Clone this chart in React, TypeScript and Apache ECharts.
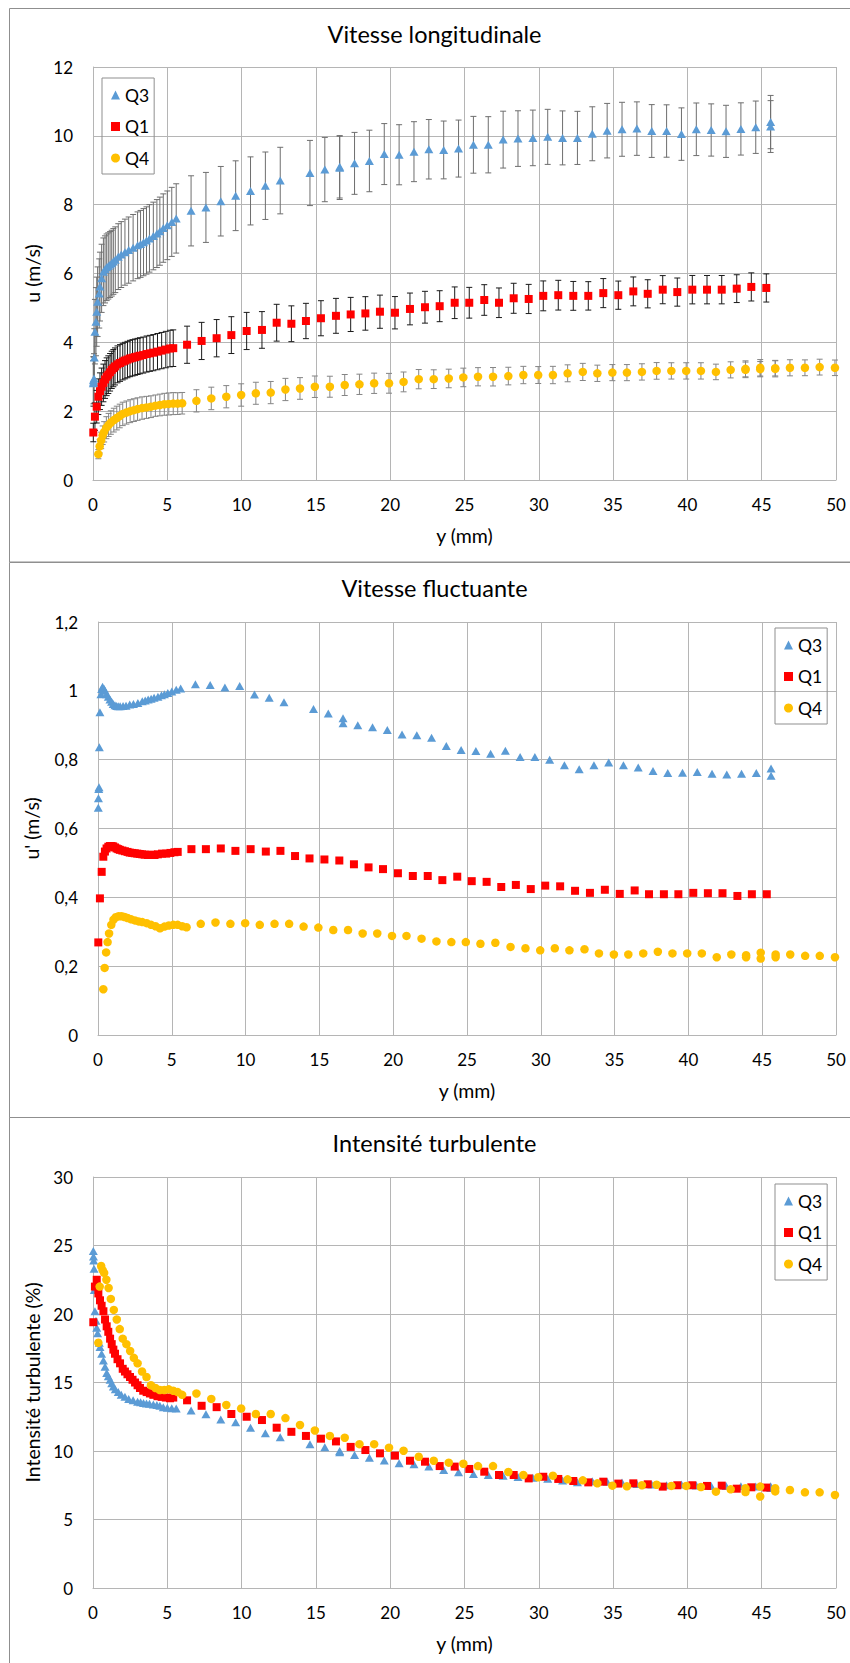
import React, { useEffect, useRef } from "react";
import * as echarts from "echarts";

const FONT = "Lato, 'Open Sans', sans-serif";

// ---------- Data ----------
const seriesNames = ["Q3", "Q1", "Q4"];
const xTicks = { min: 0, max: 50, step: 5 };

// Q3 positions (mm)
const q3Y = [
  0.02, 0.03, 0.05, 0.07, 0.09, 0.13, 0.2, 0.25, 0.31, 0.42, 0.47, 0.58, 0.7, 0.81, 0.92, 1.03, 1.15, 1.26, 1.37, 1.5,
  1.7, 1.9, 2.15, 2.4, 2.7, 3.0, 3.2, 3.4, 3.6, 3.8, 4.06, 4.3, 4.5, 4.73, 5.0, 5.3, 5.6,
  6.6, 7.6, 8.6, 9.6, 10.6, 11.6, 12.6, 14.6, 15.6, 16.6, 16.6, 17.6, 18.6, 19.6, 20.6, 21.6, 22.6, 23.6, 24.6, 25.6,
  26.6, 27.6, 28.6, 29.6, 30.6, 31.6, 32.6, 33.6, 34.6, 35.6, 36.6, 37.6, 38.6, 39.6, 40.6, 41.6, 42.6, 43.6, 44.6, 45.6, 45.6,
];
const q3U = [
  2.81, 2.9, 2.85, 2.95, 3.56, 4.31, 4.6, 4.89, 5.18, 5.42, 5.62, 5.86, 6.05, 6.12, 6.18, 6.22, 6.26, 6.3, 6.35, 6.4,
  6.49, 6.55, 6.62, 6.68, 6.75, 6.82, 6.86, 6.91, 6.96, 7.02, 7.09, 7.16, 7.23, 7.32, 7.4, 7.5, 7.6,
  7.82, 7.92, 8.1, 8.26, 8.4, 8.55, 8.7, 8.92, 9.02, 9.07, 9.1, 9.2, 9.27, 9.47, 9.45, 9.54, 9.61, 9.59, 9.63, 9.74,
  9.74, 9.89, 9.92, 9.94, 9.97, 9.94, 9.94, 10.06, 10.15, 10.19, 10.21, 10.14, 10.14, 10.05, 10.19, 10.17, 10.13, 10.2, 10.25, 10.4, 10.27,
];
const q3Urms = [
  0.66, 0.688, 0.715, 0.72, 0.836, 0.938, 0.99, 1.005, 1.012, 1.005, 1.0, 0.99, 0.983, 0.975, 0.968, 0.962, 0.958, 0.956, 0.955, 0.955,
  0.956, 0.957, 0.96, 0.962, 0.965, 0.97, 0.972, 0.975, 0.977, 0.98, 0.983, 0.987, 0.99, 0.994, 0.998, 1.003, 1.007,
  1.019, 1.017, 1.01, 1.014, 0.989, 0.98, 0.967, 0.947, 0.934, 0.92, 0.906, 0.9, 0.894, 0.886, 0.873, 0.871, 0.864, 0.84, 0.828, 0.825,
  0.817, 0.826, 0.808, 0.808, 0.8, 0.784, 0.772, 0.784, 0.792, 0.784, 0.777, 0.767, 0.761, 0.762, 0.764, 0.759, 0.757, 0.759, 0.761, 0.774, 0.753,
];
const q3TI = [
  24.6, 24.2, 23.9, 23.3, 21.75, 20.2, 19.5, 19.0, 18.6, 17.9, 17.6, 17.1, 16.6, 16.15, 15.7, 15.45, 15.2, 14.95, 14.7, 14.5,
  14.3, 14.1, 13.96, 13.8, 13.7, 13.6, 13.55, 13.5, 13.47, 13.45, 13.4, 13.35, 13.3, 13.2, 13.15, 13.12, 13.1,
  12.95, 12.68, 12.3, 12.1, 11.7, 11.3, 11.0, 10.5, 10.27, 10.0, 9.9, 9.7, 9.5, 9.3, 9.1, 9.03, 8.86, 8.61, 8.44, 8.32,
  8.25, 8.2, 8.1, 8.05, 7.98, 7.85, 7.72, 7.8, 7.75, 7.7, 7.6, 7.55, 7.5, 7.55, 7.48, 7.45, 7.45, 7.42, 7.4, 7.42, 7.3,
];

// Q1 positions (mm)
const q1Y = [
  0.02, 0.13, 0.25, 0.36, 0.47, 0.58, 0.7, 0.81, 0.92, 1.03, 1.15, 1.26, 1.37, 1.48, 1.65, 1.82, 2.0, 2.15, 2.32, 2.49,
  2.66, 2.83, 3.0, 3.16, 3.38, 3.61, 3.83, 4.06, 4.34, 4.62, 4.9, 5.18, 5.4,
  6.33, 7.31, 8.32, 9.31, 10.34, 11.37, 12.36, 13.35, 14.33, 15.34, 16.35, 17.34, 18.33, 19.31, 20.32, 21.33, 22.34, 23.33, 24.34, 25.32,
  26.33, 27.32, 28.31, 29.32, 30.3, 31.31, 32.32, 33.33, 34.34, 35.35, 36.36, 37.33, 38.34, 39.32, 40.33, 41.32, 42.31, 43.32, 44.3, 45.31,
];
const q1U = [
  1.38, 1.84, 2.13, 2.42, 2.58, 2.71, 2.82, 2.92, 3.0, 3.06, 3.13, 3.2, 3.25, 3.3, 3.36, 3.4, 3.44, 3.47, 3.5, 3.53,
  3.55, 3.57, 3.59, 3.61, 3.63, 3.66, 3.68, 3.7, 3.73, 3.76, 3.79, 3.82, 3.83,
  3.93, 4.04, 4.12, 4.21, 4.33, 4.36, 4.57, 4.54, 4.62, 4.7, 4.77, 4.81, 4.84, 4.89, 4.86, 4.97, 5.02, 5.05, 5.15, 5.15,
  5.23, 5.15, 5.28, 5.26, 5.35, 5.37, 5.35, 5.35, 5.43, 5.37, 5.48, 5.41, 5.53, 5.46, 5.53, 5.53, 5.53, 5.56, 5.61, 5.58,
];
const q1Urms = [
  0.269, 0.397, 0.474, 0.518, 0.533, 0.542, 0.547, 0.549, 0.549, 0.548, 0.545, 0.542, 0.54, 0.538, 0.536, 0.534, 0.532, 0.53, 0.529, 0.528,
  0.527, 0.526, 0.525, 0.524, 0.523, 0.524, 0.523, 0.525, 0.527, 0.527, 0.529, 0.531, 0.532,
  0.54, 0.54, 0.542, 0.535, 0.54, 0.533, 0.535, 0.52, 0.513, 0.51, 0.507, 0.496, 0.487, 0.482, 0.47, 0.462, 0.462, 0.45, 0.46, 0.447,
  0.445, 0.43, 0.436, 0.424, 0.434, 0.432, 0.419, 0.413, 0.422, 0.41, 0.42, 0.409, 0.409, 0.409, 0.413, 0.412, 0.412, 0.404, 0.409, 0.409,
];
const q1TI = [
  19.4, 22.0, 22.5, 21.5, 21.0, 20.6, 20.2, 19.6, 19.1, 18.7, 18.2, 17.8, 17.4, 17.1, 16.7, 16.4, 16.0, 15.8, 15.6, 15.4,
  15.2, 15.0, 14.8, 14.6, 14.4, 14.3, 14.2, 14.1, 14.0, 13.95, 13.9, 13.85, 13.9,
  13.7, 13.3, 13.2, 12.7, 12.5, 12.26, 11.7, 11.4, 11.1, 10.9, 10.7, 10.3, 10.07, 9.83, 9.66, 9.29, 9.22, 8.9, 8.86, 8.69,
  8.49, 8.25, 8.25, 8.0, 8.12, 7.96, 7.81, 7.71, 7.76, 7.62, 7.64, 7.57, 7.4, 7.5, 7.5, 7.45, 7.47, 7.25, 7.35, 7.33,
];

// Q4 positions (mm)
const q4Y = [
  0.36, 0.45, 0.55, 0.65, 0.75, 0.9, 1.05, 1.2, 1.4, 1.6, 1.8, 2.0, 2.25, 2.5, 2.75, 3.0, 3.3, 3.6, 3.9, 4.2,
  4.5, 4.8, 5.1, 5.4, 5.7, 6.0,
  6.96, 7.96, 8.97, 9.97, 10.96, 11.96, 12.95, 13.93, 14.93, 15.94, 16.94, 17.93, 18.92, 19.92, 20.9, 21.92, 22.93, 23.94, 24.92, 25.91,
  26.92, 27.95, 28.96, 29.96, 30.95, 31.94, 32.96, 33.94, 34.95, 35.93, 36.94, 37.93, 38.92, 39.92, 40.91, 41.92, 42.91,
  43.91, 43.91, 44.9, 44.9, 45.91, 45.91, 46.9, 47.91, 48.9, 49.93,
];
const q4U = [
  0.75, 0.98, 1.15, 1.3, 1.4, 1.52, 1.6, 1.67, 1.74, 1.8, 1.86, 1.92, 1.96, 2.0, 2.03, 2.06, 2.09, 2.11, 2.13, 2.16,
  2.18, 2.2, 2.21, 2.22, 2.22, 2.23,
  2.3, 2.37, 2.42, 2.47, 2.52, 2.54, 2.63, 2.66, 2.71, 2.71, 2.76, 2.78, 2.81, 2.81, 2.85, 2.93, 2.93, 2.95, 2.98, 3.0,
  3.0, 3.02, 3.05, 3.05, 3.05, 3.1, 3.14, 3.1, 3.12, 3.12, 3.14, 3.17, 3.17, 3.17, 3.17, 3.14, 3.2,
  3.23, 3.2, 3.26, 3.22, 3.23, 3.25, 3.26, 3.26, 3.28, 3.26,
];
const q4Urms = [
  0.133, 0.195, 0.24, 0.27, 0.295, 0.32, 0.335, 0.342, 0.345, 0.345, 0.343, 0.34, 0.336, 0.333, 0.33, 0.328, 0.325, 0.32, 0.316, 0.31,
  0.315, 0.318, 0.32, 0.32, 0.316, 0.313,
  0.323, 0.327, 0.323, 0.325, 0.32, 0.323, 0.323, 0.315, 0.312, 0.305, 0.305, 0.295, 0.295, 0.288, 0.288, 0.28, 0.272, 0.27, 0.27, 0.265,
  0.268, 0.256, 0.252, 0.246, 0.252, 0.246, 0.249, 0.237, 0.234, 0.234, 0.237, 0.242, 0.237, 0.237, 0.237, 0.226, 0.234,
  0.232, 0.226, 0.239, 0.222, 0.234, 0.226, 0.234, 0.23, 0.23, 0.226,
];
const q4TI = [
  17.9, 22.0, 23.5, 23.2, 23.0, 22.5, 21.9, 21.1, 20.3, 19.6, 18.9, 18.2, 17.8, 17.3, 16.8, 16.4, 15.8, 15.4, 14.8, 14.6,
  14.45, 14.45, 14.5, 14.4, 14.3, 14.1,
  14.2, 13.8, 13.36, 13.1, 12.7, 12.7, 12.4, 11.9, 11.5, 11.1, 10.97, 10.5, 10.5, 10.24, 10.02, 9.58, 9.29, 9.15, 9.07, 8.9,
  8.9, 8.47, 8.25, 8.08, 8.2, 7.93, 7.86, 7.64, 7.47, 7.42, 7.5, 7.54, 7.45, 7.45, 7.37, 7.03, 7.2,
  7.28, 7.0, 7.4, 6.68, 7.28, 7.05, 7.15, 6.98, 6.98, 6.79,
];

const titles = ["Vitesse longitudinale", "Vitesse fluctuante", "Intensité turbulente"];
const yNames = ["u (m/s)", "u' (m/s)", "Intensité turbulente (%)"];
const yRanges = [
  { min: 0, max: 12, step: 2 },
  { min: 0, max: 1.2, step: 0.2 },
  { min: 0, max: 30, step: 5 },
];

// ---------- Styles ----------
const COLORS = ["#5B9BD5", "#FF0000", "#FFC000"];
const ERR_COLORS = ["#6e6e6e", "#1a1a1a", "#858585"];
const SYMBOLS = ["triangle", "rect", "circle"];
const SYMBOL_SIZES: any[] = [[9, 8], 8, 8.5];
const GRID_COLOR = "#b5b5b5";
const BORDER_COLOR = "#8f8f8f";

const grids = [
  { left: 93, top: 67, width: 743, height: 413 },
  { left: 98, top: 622, width: 738, height: 413 },
  { left: 93, top: 1177, width: 743, height: 411 },
];
const titleY = [34, 588, 1143];
const nameGaps = [43, 57, 43];
const legendPos = [
  { left: 102, top: 78 },
  { left: 775, top: 628 },
  { left: 775, top: 1184 },
];
const panelBoxes = [
  [8.5, 553.5],
  [562.5, 555],
  [1117.5, 600],
];

function pairs(xs: number[], ys: number[]) {
  const n = Math.min(xs.length, ys.length);
  const out: number[][] = [];
  for (let i = 0; i < n; i++) out.push([xs[i], ys[i]]);
  return out;
}
function errData(xs: number[], ys: number[], es: number[]) {
  const n = Math.min(xs.length, ys.length, es.length);
  const out: number[][] = [];
  for (let i = 0; i < n; i++) out.push([xs[i], ys[i] - es[i], ys[i] + es[i]]);
  return out;
}

const errRender = (color: string) => (_params: any, api: any) => {
  const x = api.value(0);
  const top = api.coord([x, api.value(2)]);
  const bot = api.coord([x, api.value(1)]);
  const w = 3;
  const style = { stroke: color, lineWidth: 1 };
  return {
    type: "group",
    children: [
      { type: "line", shape: { x1: top[0], y1: top[1], x2: bot[0], y2: bot[1] }, style },
      { type: "line", shape: { x1: top[0] - w, y1: top[1], x2: top[0] + w, y2: top[1] }, style },
      { type: "line", shape: { x1: bot[0] - w, y1: bot[1], x2: bot[0] + w, y2: bot[1] }, style },
    ],
  };
};

function buildOption() {
  const xs = [q3Y, q1Y, q4Y];
  const panelValues = [
    [q3U, q1U, q4U],
    [q3Urms, q1Urms, q4Urms],
    [q3TI, q1TI, q4TI],
  ];
  const rms = [q3Urms, q1Urms, q4Urms];

  const series: any[] = [];
  for (let s = 0; s < 3; s++) {
    series.push({
      type: "custom",
      name: "err" + seriesNames[s],
      xAxisIndex: 0,
      yAxisIndex: 0,
      renderItem: errRender(ERR_COLORS[s]),
      data: errData(xs[s], panelValues[0][s], rms[s]),
      encode: { x: 0, y: [1, 2] },
      silent: true,
      clip: false,
      z: 1,
    });
  }
  for (let p = 0; p < 3; p++) {
    for (let s = 0; s < 3; s++) {
      series.push({
        type: "scatter",
        name: seriesNames[s],
        xAxisIndex: p,
        yAxisIndex: p,
        symbol: SYMBOLS[s],
        symbolSize: SYMBOL_SIZES[s],
        itemStyle: { color: COLORS[s], opacity: 1 },
        data: pairs(xs[s], panelValues[p][s]),
        clip: false,
        silent: true,
        z: 3,
      });
    }
  }

  const fmtComma = (v: number) => {
    const r = Math.round(v * 10) / 10;
    return String(r).replace(".", ",");
  };

  const graphic: any[] = [];
  panelBoxes.forEach(([y, h]) => {
    graphic.push({
      type: "rect",
      shape: { x: 9.5, y, width: 900, height: h },
      style: { fill: "none", stroke: BORDER_COLOR, lineWidth: 1 },
      z: 0,
      silent: true,
    });
  });
  titles.forEach((t, i) => {
    graphic.push({
      type: "text",
      x: 434.5,
      y: titleY[i],
      style: {
        text: t,
        fontSize: 23.5,
        fontFamily: FONT,
        fill: "#000",
        align: "center",
        verticalAlign: "middle",
      },
      z: 5,
    });
  });

  return {
    animation: false,
    backgroundColor: "#ffffff",
    grid: grids.map((g) => ({ ...g, containLabel: false })),
    xAxis: grids.map((_, i) => ({
      type: "value",
      gridIndex: i,
      min: xTicks.min,
      max: xTicks.max,
      interval: xTicks.step,
      name: "y (mm)",
      nameLocation: "middle",
      nameGap: 45,
      nameTextStyle: { fontSize: 19.5, fontFamily: FONT, color: "#000" },
      axisLine: { show: true, lineStyle: { color: GRID_COLOR, width: 1 } },
      axisTick: { show: false },
      axisLabel: { fontSize: 17, fontFamily: FONT, color: "#000", margin: 16 },
      splitLine: { show: true, lineStyle: { color: GRID_COLOR, width: 1 } },
    })),
    yAxis: grids.map((_, i) => ({
      type: "value",
      gridIndex: i,
      min: yRanges[i].min,
      max: yRanges[i].max,
      interval: yRanges[i].step,
      name: yNames[i],
      nameLocation: "middle",
      nameGap: nameGaps[i],
      nameTextStyle: { fontSize: 19.5, fontFamily: FONT, color: "#000" },
      axisLine: { show: true, lineStyle: { color: GRID_COLOR, width: 1 } },
      axisTick: { show: false },
      axisLabel: {
        fontSize: 17,
        fontFamily: FONT,
        color: "#000",
        margin: 20,
        formatter: i === 1 ? fmtComma : undefined,
      },
      splitLine: { show: true, lineStyle: { color: GRID_COLOR, width: 1 } },
    })),
    legend: legendPos.map((pos) => ({
      ...pos,
      orient: "vertical",
      data: seriesNames,
      selectedMode: false,
      borderColor: BORDER_COLOR,
      borderWidth: 1,
      padding: [7, 5, 6, 9],
      itemGap: 11.5,
      itemWidth: 9,
      itemHeight: 9,
      textStyle: { fontSize: 17.5, fontFamily: FONT, color: "#000", lineHeight: 20 },
    })),
    graphic,
    series,
  };
}

export default function App() {
  const ref = useRef<HTMLDivElement>(null);
  useEffect(() => {
    if (!ref.current) return;
    const chart = echarts.init(ref.current, null, { renderer: "svg" });
    chart.setOption(buildOption() as any);
    return () => chart.dispose();
  }, []);
  return (
    <div
      ref={ref}
      style={{ position: "absolute", left: 0, top: 0, width: 850, height: 1663, background: "#fff" }}
    />
  );
}
